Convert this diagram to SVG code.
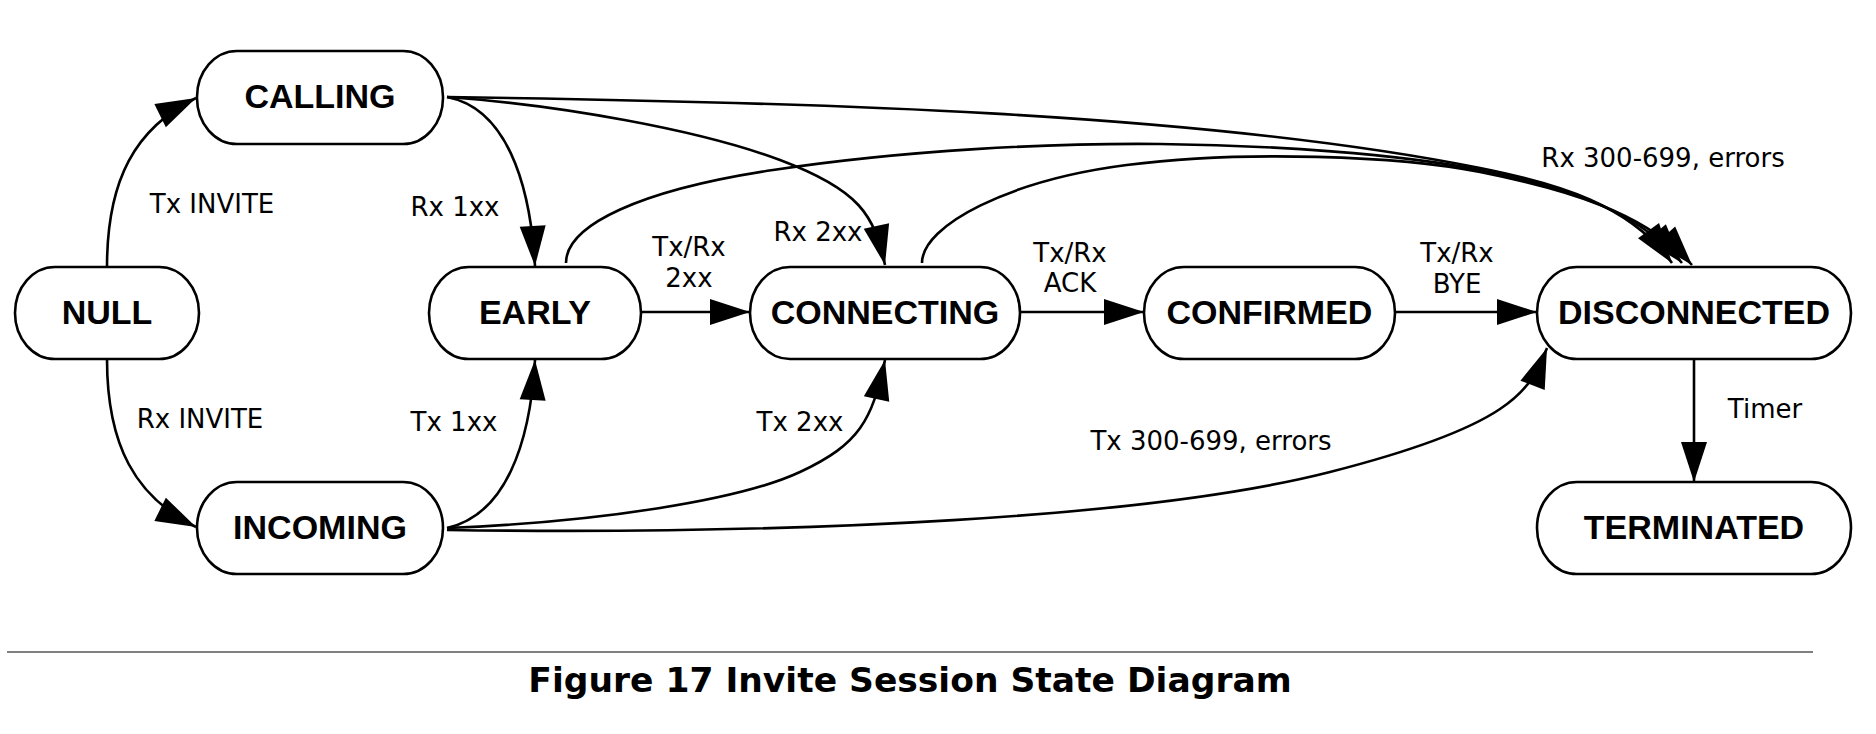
<svg xmlns="http://www.w3.org/2000/svg" width="1876" height="734" viewBox="0 0 1876 734">
<style>
.node rect{fill:#fff;stroke:#000;stroke-width:2.6}
.node text{font-family:"Liberation Sans",Arial,sans-serif;font-weight:bold;font-size:34px;text-anchor:middle;fill:#000}
.edge{fill:none;stroke:#000;stroke-width:2.6;marker-end:url(#arr)}
.lbl{font-family:"DejaVu Sans",Verdana,sans-serif;font-size:26px;text-anchor:middle;fill:#000}
.title{font-family:"DejaVu Sans",Verdana,sans-serif;font-weight:bold;font-size:34.5px;text-anchor:middle;fill:#000}
</style>
<defs>
<marker id="arr" markerUnits="userSpaceOnUse" markerWidth="40" markerHeight="26" refX="40" refY="13" orient="auto" overflow="visible">
<path d="M0,0 L40,13 L0,26 Z" fill="#000"/>
</marker>
</defs>
<rect width="1876" height="734" fill="#fff"/>
<g id="connectors">
<path class="edge" d="M107,267 C107,180 135,128 196,98"/>
<path class="edge" d="M107,359 C107,445 135,497 196,527"/>
<path class="edge" d="M447,97 C505,108 530,180 535,266"/>
<path class="edge" d="M447,528 C505,515 530,445 535,360"/>
<path class="edge" d="M641,312 L750,312"/>
<path class="edge" d="M447,97 C560,105 700,130 780,160 S874,215 885,265"/>
<path class="edge" d="M447,528 C600,522 740,500 800,472 S872,420 885,360"/>
<path class="edge" d="M447,530 C800,535 1150,518 1330,472 S1530,392 1547,348"/>
<path class="edge" d="M1020,312 L1144,312"/>
<path class="edge" d="M1395,312 L1537,312"/>
<path class="edge" d="M1694,359 L1694,482"/>
<path class="edge" d="M447,97 C800,102 1200,112 1480,168 C1560,184 1630,205 1672,263"/>
<path class="edge" d="M566,263 C566,225 640,190 773,170 C906,150 1050,143 1160,144 C1270,145 1400,154 1480,170 C1560,186 1635,208 1682,263"/>
<path class="edge" d="M922,263 C922,225 1010,180 1126.7,165 C1243,150 1400,156 1480,172 C1565,189 1645,212 1692,265"/>
</g>
<g id="labels">
<text class="lbl" x="212" y="213">Tx INVITE</text>
<text class="lbl" x="200" y="428">Rx INVITE</text>
<text class="lbl" x="455" y="216">Rx 1xx</text>
<text class="lbl" x="454" y="431">Tx 1xx</text>
<text class="lbl" x="689" y="256">Tx/Rx</text>
<text class="lbl" x="689" y="287">2xx</text>
<text class="lbl" x="818" y="241">Rx 2xx</text>
<text class="lbl" x="800" y="431">Tx 2xx</text>
<text class="lbl" x="1070" y="262">Tx/Rx</text>
<text class="lbl" x="1070" y="292">ACK</text>
<text class="lbl" x="1457" y="262">Tx/Rx</text>
<text class="lbl" x="1457" y="293">BYE</text>
<text class="lbl" x="1663" y="167">Rx 300-699, errors</text>
<text class="lbl" x="1211" y="450">Tx 300-699, errors</text>
<text class="lbl" x="1765" y="418">Timer</text>
</g>
<g id="NULL" class="node"><rect x="15" y="267" width="184" height="92" rx="40" ry="46"/><text x="107" y="324">NULL</text></g>
<g id="CALLING" class="node"><rect x="197" y="51" width="246" height="93" rx="40" ry="46"/><text x="320" y="108">CALLING</text></g>
<g id="INCOMING" class="node"><rect x="197" y="482" width="246" height="92" rx="40" ry="46"/><text x="320" y="539">INCOMING</text></g>
<g id="EARLY" class="node"><rect x="429" y="267" width="212" height="92" rx="40" ry="46"/><text x="535" y="324">EARLY</text></g>
<g id="CONNECTING" class="node"><rect x="750" y="267" width="270" height="92" rx="40" ry="46"/><text x="885" y="324">CONNECTING</text></g>
<g id="CONFIRMED" class="node"><rect x="1144" y="267" width="251" height="92" rx="40" ry="46"/><text x="1269.5" y="324">CONFIRMED</text></g>
<g id="DISCONNECTED" class="node"><rect x="1537" y="267" width="314" height="92" rx="40" ry="46"/><text x="1694" y="324">DISCONNECTED</text></g>
<g id="TERMINATED" class="node"><rect x="1537" y="482" width="314" height="92" rx="40" ry="46"/><text x="1694" y="539">TERMINATED</text></g>
<g id="caption">
<path d="M7,652 H1813" stroke="#808080" stroke-width="2"/>
<text class="title" x="910" y="692">Figure 17 Invite Session State Diagram</text>
</g>
</svg>
